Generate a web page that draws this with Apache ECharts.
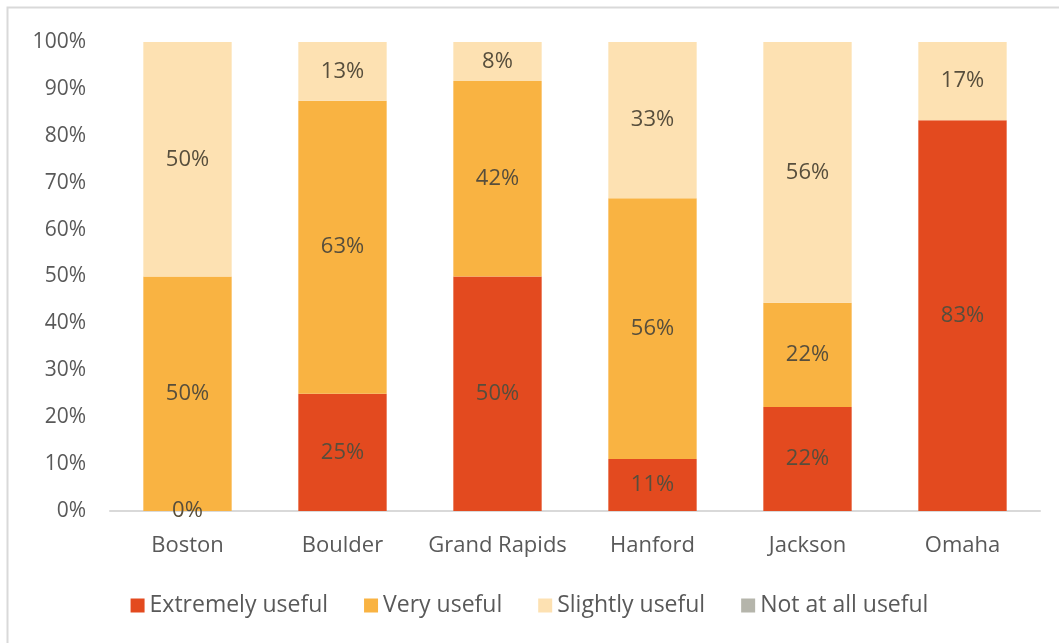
<!DOCTYPE html>
<html>
<head>
<meta charset="utf-8">
<script src="https://cdn.jsdelivr.net/npm/echarts@6/dist/echarts.min.js"></script>
<style>
  html, body { margin: 0; padding: 0; background: #fff; }
  #chart { width: 1059px; height: 643px; }
</style>
</head>
<body>
<div id="chart"></div>
<script>
// Sites surveyed and share of responses per usefulness rating (percent)
const sites = ['Boston', 'Boulder', 'Grand Rapids', 'Hanford', 'Jackson', 'Omaha'];
const extremelyUseful = [0, 25, 50, 11.1, 22.2, 83.3];
const veryUseful = [50, 62.5, 41.7, 55.6, 22.2, 0];
const slightlyUseful = [50, 12.5, 8.3, 33.3, 55.6, 16.7];
const notAtAllUseful = [0, 0, 0, 0, 0, 0];
const yTicks = [0, 10, 20, 30, 40, 50, 60, 70, 80, 90, 100];

const textColor = '#595959';
const labelColor = '#574e3c';
const fontFamily = '"Open Sans", "Liberation Sans", sans-serif';

// Show a value label on non-zero segments; Boston's empty top-rated share is still labelled
function withLabels(values, showZeroAt) {
  return values.map((v, i) => ({
    value: v,
    label: { show: v > 0 || i === showZeroAt }
  }));
}

function makeSeries(name, values, color, showZeroAt) {
  return {
    name: name,
    type: 'bar',
    stack: 'total',
    barWidth: '57%',
    itemStyle: { color: color },
    label: {
      position: 'inside',
      color: labelColor,
      fontSize: 22,
      fontFamily: fontFamily,
      formatter: p => Math.round(p.value) + '%'
    },
    emphasis: { disabled: true },
    data: withLabels(values, showZeroAt)
  };
}

const chart = echarts.init(document.getElementById('chart'), null, { renderer: 'canvas' });
chart.setOption({
  animation: false,
  backgroundColor: '#fff',
  graphic: [{
    type: 'rect',
    shape: { x: 7.5, y: 7.5, width: 1100, height: 700 },
    style: { fill: 'none', stroke: '#d9d9d9', lineWidth: 2 },
    silent: true,
    z: -1
  }],
  grid: { left: 110, right: 19, top: 42, bottom: 132, containLabel: false },
  legend: {
    bottom: 21,
    left: 'center',
    itemWidth: 14,
    itemHeight: 14,
    itemGap: 36,
    icon: 'rect',
    textStyle: { color: textColor, fontSize: 23, fontFamily: fontFamily },
    data: ['Extremely useful', 'Very useful', 'Slightly useful', 'Not at all useful']
  },
  xAxis: {
    type: 'category',
    data: sites,
    axisTick: { show: false },
    axisLine: { lineStyle: { color: '#d9d9d9', width: 2 } },
    axisLabel: { interval: 0, color: textColor, fontSize: 22, fontFamily: fontFamily, margin: 24 }
  },
  yAxis: {
    type: 'value',
    min: yTicks[0],
    max: yTicks[yTicks.length - 1],
    interval: yTicks[1] - yTicks[0],
    splitLine: { show: false },
    axisLine: { show: false },
    axisTick: { show: false },
    axisLabel: {
      color: textColor, fontSize: 21, fontFamily: fontFamily, margin: 24,
      formatter: v => v + '%'
    }
  },
  series: [
    makeSeries('Extremely useful', extremelyUseful, '#e34a1f', 0),
    makeSeries('Very useful', veryUseful, '#f9b342', -1),
    makeSeries('Slightly useful', slightlyUseful, '#fde1b2', -1),
    makeSeries('Not at all useful', notAtAllUseful, '#b5b5ab', -1)
  ]
});
</script>
</body>
</html>
